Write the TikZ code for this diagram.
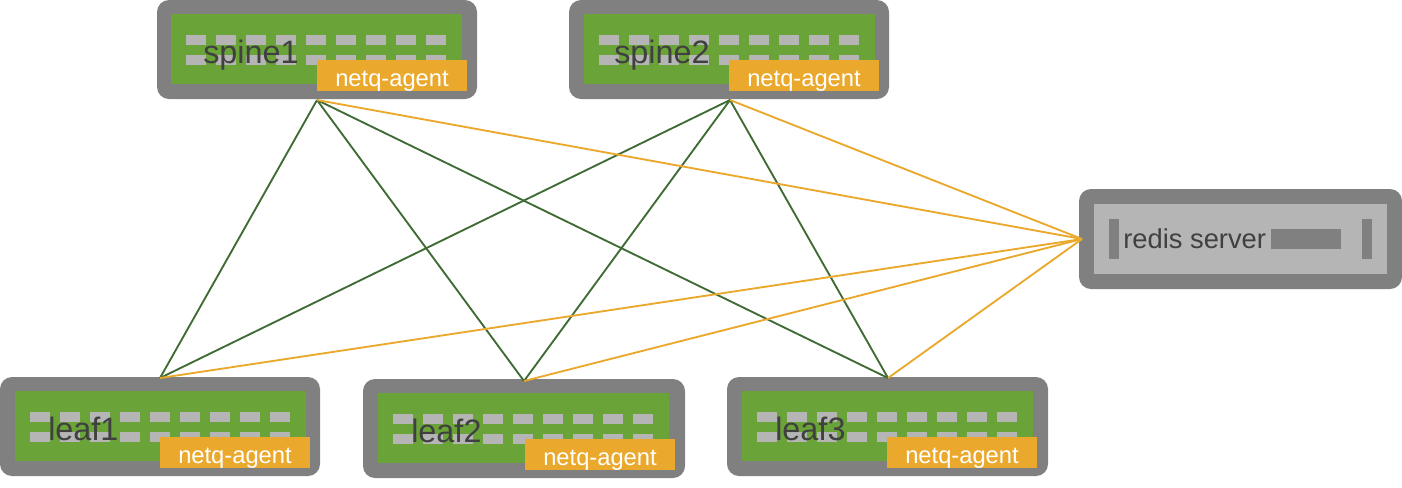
\documentclass[tikz,border=0pt]{standalone}
\usepackage{fontspec}
\setmainfont{Liberation Sans}
\definecolor{chassis}{HTML}{808080}
\definecolor{board}{HTML}{6AA337}
\definecolor{portc}{HTML}{B5B5B5}
\definecolor{tagc}{HTML}{EAA92C}
\definecolor{linkg}{HTML}{3F6B35}
\definecolor{labelc}{HTML}{404040}
\tikzset{
  chassisbox/.style={anchor=north west,inner sep=0pt,outer sep=0pt,fill=chassis,rounded corners=9pt,minimum height=74.25pt},
  boardbox/.style={anchor=north west,inner sep=0pt,outer sep=0pt,fill=board,minimum width=218.25pt,minimum height=52.5pt},
  tagbox/.style={anchor=north west,inner sep=0pt,outer sep=0pt,fill=tagc,text=white,font=\fontsize{17.8}{20}\selectfont,minimum width=112.5pt,minimum height=23.25pt,text height=19.5pt,text depth=3.75pt},
  namelabel/.style={anchor=base west,inner sep=0pt,text=labelc,font=\fontsize{24.3}{28}\selectfont},
  datalink/.style={linkg,line width=1.4pt},
  agentlink/.style={tagc,line width=1.4pt},
}
% name, x, y, label, label x, inset, tag x, width
\newcommand{\device}[8]{%
  \begin{scope}[shift={(#2,#3)}]
    \node[chassisbox,minimum width=#8] (#1) at (0,0) {};
    \node[boardbox] (#1-board) at (#6,14) {};
    \foreach \i in {0,...,8} {
      \fill[portc] (#6+15+30*\i,35) rectangle ++(20,10);
      \fill[portc] (#6+15+30*\i,55) rectangle ++(20,10);
    }
    \node[namelabel] (#1-name) at (#5,63) {#4};
    \node[tagbox] (#1-tag) at (#7,60) {netq-agent};
  \end{scope}}
\begin{document}
\begin{tikzpicture}[x=0.75pt,y=-0.75pt]
\useasboundingbox (0,0) rectangle (1402,487);
\device{spine1}{157}{0}{spine1}{46}{14}{160}{240pt}
\device{spine2}{569}{0}{spine2}{45}{15}{160}{240pt}
\device{leaf1}{0}{377}{leaf1}{48}{15}{160}{240pt}
\device{leaf2}{363}{379}{leaf2}{48}{15}{162}{241.5pt}
\device{leaf3}{727}{377}{leaf3}{48}{15}{160}{240.75pt}
% redis server
\node[anchor=north west,inner sep=0pt,outer sep=0pt,fill=chassis,rounded corners=9pt,minimum width=242.25pt,minimum height=75pt] (redis) at (1079,189) {};
\node[anchor=north west,inner sep=0pt,outer sep=0pt,fill=portc,minimum width=219.75pt,minimum height=52.5pt] (redis-panel) at (1094,204) {};
\fill[chassis] (1109,219) rectangle (1119,259);
\fill[chassis] (1362,219) rectangle (1372,259);
\fill[chassis] (1271,229) rectangle (1341,249);
\node[namelabel,font=\fontsize{20.5}{24}\selectfont] (redis-name) at (1123,248) {redis server};
% connector ends
\coordinate (s1) at (317,100);
\coordinate (s2) at (730,100);
\coordinate (l1) at (160,378);
\coordinate (l2) at (524,381);
\coordinate (l3) at (888,378);
\coordinate (rd) at (1082,239);
\foreach \a in {s1,s2} \foreach \b in {l1,l2,l3} \draw[datalink] (\a) -- (\b);
\foreach \a in {s1,s2,l1,l2,l3} \draw[agentlink] (\a) -- (rd);
\end{tikzpicture}
\end{document}
